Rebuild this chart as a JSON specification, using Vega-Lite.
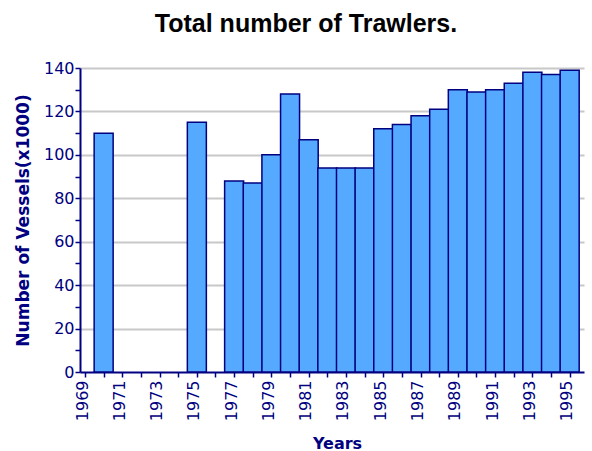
{
  "$schema": "https://vega.github.io/schema/vega-lite/v6.json",
  "autosize": "none",
  "padding": {"left": 80, "top": 68, "right": 8, "bottom": 79},
  "width": 504,
  "height": 304,
  "background": "white",
  "title": {
    "text": "Total number of Trawlers.",
    "font": "Liberation Sans",
    "fontSize": 25,
    "fontWeight": "bold",
    "color": "#000000",
    "anchor": "middle",
    "dx": -26,
    "offset": 23
  },
  "data": {
    "values": [
      {"year": 1970, "vessels": 110},
      {"year": 1975, "vessels": 115},
      {"year": 1977, "vessels": 88},
      {"year": 1978, "vessels": 87},
      {"year": 1979, "vessels": 100},
      {"year": 1980, "vessels": 128},
      {"year": 1981, "vessels": 107},
      {"year": 1982, "vessels": 94},
      {"year": 1983, "vessels": 94},
      {"year": 1984, "vessels": 94},
      {"year": 1985, "vessels": 112},
      {"year": 1986, "vessels": 114},
      {"year": 1987, "vessels": 118},
      {"year": 1988, "vessels": 121},
      {"year": 1989, "vessels": 130},
      {"year": 1990, "vessels": 129},
      {"year": 1991, "vessels": 130},
      {"year": 1992, "vessels": 133},
      {"year": 1993, "vessels": 138},
      {"year": 1994, "vessels": 137},
      {"year": 1995, "vessels": 139}
    ]
  },
  "config": {
    "view": {"stroke": null},
    "axis": {
      "labelFont": "DejaVu Sans",
      "labelFontSize": 16,
      "labelColor": "#000080",
      "titleFont": "DejaVu Sans",
      "titleFontSize": 16,
      "titleFontWeight": "bold",
      "titleColor": "#000080",
      "domainColor": "#000080",
      "domainWidth": 2,
      "tickColor": "#000080",
      "tickWidth": 1.5,
      "tickSize": 5,
      "gridColor": "#c8c8c8",
      "gridWidth": 2
    }
  },
  "mark": {"type": "bar", "size": 19, "fill": "#55aaff", "stroke": "#000080", "strokeWidth": 1.5},
  "encoding": {
    "x": {
      "field": "year",
      "type": "quantitative",
      "scale": {"domain": [1969, 1995.5], "nice": false, "zero": false},
      "axis": {
        "title": "Years",
        "values": [1969, 1970, 1971, 1972, 1973, 1974, 1975, 1976, 1977, 1978, 1979, 1980, 1981, 1982, 1983, 1984, 1985, 1986, 1987, 1988, 1989, 1990, 1991, 1992, 1993, 1994, 1995],
        "format": "d",
        "labelExpr": "datum.value % 2 == 1 ? datum.label : ''",
        "labelAngle": -90,
        "labelPadding": 3,
        "labelOffset": -3,
        "labelOverlap": false,
        "labelFlush": false,
        "grid": false,
        "titleX": 257,
        "titleY": 76,
        "titleBaseline": "alphabetic",
        "titleAnchor": null
      }
    },
    "y": {
      "field": "vessels",
      "type": "quantitative",
      "scale": {"domain": [0, 140], "nice": false},
      "axis": {
        "title": "Number of Vessels(x1000)",
        "titleFontSize": 17,
        "values": [0, 10, 20, 30, 40, 50, 60, 70, 80, 90, 100, 110, 120, 130, 140],
        "labelExpr": "datum.value % 20 == 0 ? datum.label : ''",
        "labelPadding": 1,
        "labelOverlap": false,
        "labelFlush": false,
        "grid": true,
        "gridOpacity": {"condition": {"test": "datum.value % 20 == 0 && datum.value > 0", "value": 1}, "value": 0},
        "titleX": -57,
        "titleY": 152,
        "titleAngle": -90,
        "titleBaseline": "middle",
        "titleAlign": "center"
      }
    }
  }
}
